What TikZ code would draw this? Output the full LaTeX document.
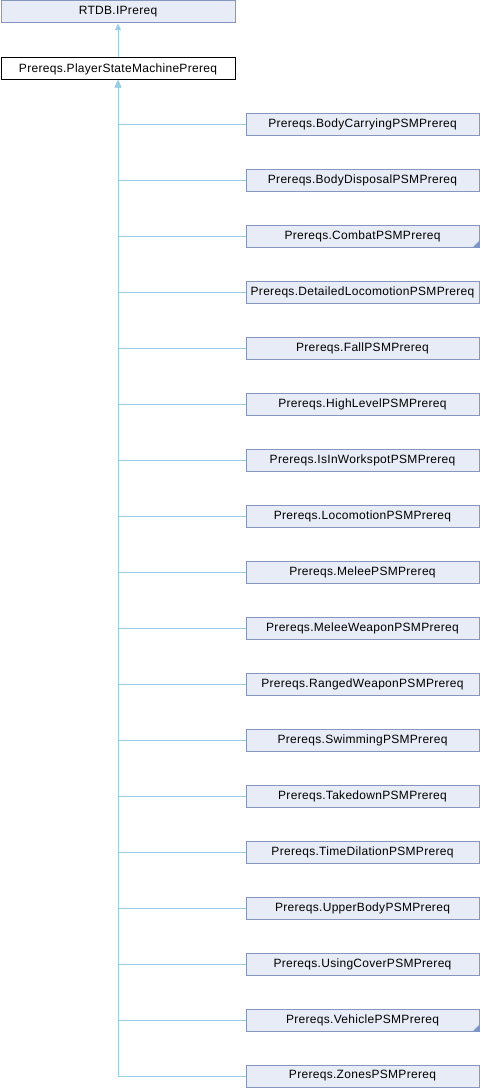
\documentclass[tikz,border=0pt]{standalone}
\usepackage{fontspec}
\setmainfont{Liberation Sans}[LetterSpace=2.5]
\usetikzlibrary{arrows.meta}
\definecolor{boxfill}{HTML}{E8ECF6}
\definecolor{boxdraw}{HTML}{8497BF}
\definecolor{edgecol}{HTML}{9ACEE6}
\definecolor{cornercol}{HTML}{7B96CC}
\begin{document}
\begin{tikzpicture}[x=0.75pt,y=-0.75pt,
  cls/.style={draw=boxdraw,fill=boxfill,line width=0.75pt,minimum width=233*0.75pt,minimum height=22*0.75pt,inner sep=0pt,font=\fontsize{9pt}{10pt}\selectfont,anchor=north west},
  main/.style={cls,draw=black,fill=white},
  edge/.style={draw=edgecol,line width=0.75pt},
  inh/.style={edge,-{Triangle[width=4.5pt,length=5pt,fill=edgecol]}},
  corner/.style={fill=cornercol}]
\useasboundingbox (0,0) rectangle (480,1088);
\node[cls,minimum width=234*0.75pt] (root) at (0.5,0.5) {RTDB.IPrereq};
\node[main,minimum width=234*0.75pt] (psm) at (0.5,57.5) {Prereqs.PlayerStateMachinePrereq};
\draw[inh] (psm.north) -- (root.south);
\foreach \n [count=\i from 0] in {BodyCarrying,BodyDisposal,Combat,DetailedLocomotion,Fall,HighLevel,IsInWorkspot,Locomotion,Melee,MeleeWeapon,RangedWeapon,Swimming,Takedown,TimeDilation,UpperBody,UsingCover,Vehicle,Zones}{
  \node[cls] (c\i) at (245.5,{112.5+56*\i}) {Prereqs.\n PSMPrereq};
}
\foreach \i in {0,...,17}{
  \draw[inh] (c\i.west) -| (psm.south);
}
\foreach \i in {2,16}{
  \fill[corner] (c\i.south east) -- ++(0,-7) -- ++(-7,7) -- cycle;
}
\end{tikzpicture}
\end{document}
